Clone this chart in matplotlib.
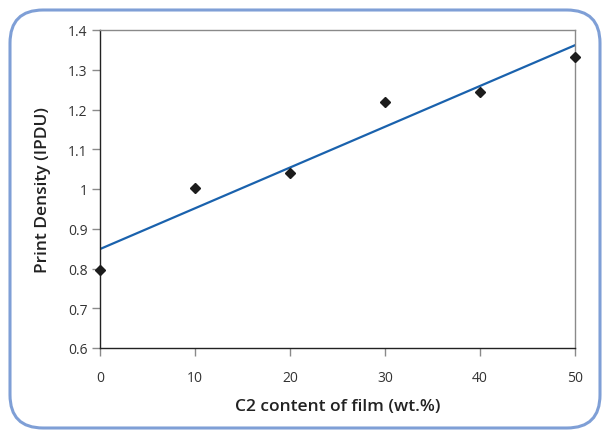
import matplotlib

matplotlib.use("Agg")
import matplotlib.pyplot as plt
import numpy as np
from matplotlib.patches import FancyBboxPatch

plt.rcParams["font.family"] = ["Open Sans", "DejaVu Sans"]

c2_content = [0, 10, 20, 30, 40, 50]
print_density = [0.795, 1.002, 1.04, 1.219, 1.244, 1.332]

x_ticks = [0, 10, 20, 30, 40, 50]
y_ticks = [0.6, 0.7, 0.8, 0.9, 1.0, 1.1, 1.2, 1.3, 1.4]
y_tick_labels = ["0.6", "0.7", "0.8", "0.9", "1", "1.1", "1.2", "1.3", "1.4"]


def main() -> None:
    fig = plt.figure(figsize=(6.02, 4.31), dpi=100)

    # rounded frame round the whole figure
    frame = FancyBboxPatch(
        (10 / 602, 2 / 431),
        (600 - 10) / 602,
        (431 - 13) / 431,
        boxstyle="round,pad=0,rounding_size=0.055",
        transform=fig.transFigure,
        facecolor="none",
        edgecolor="#7f9fd6",
        linewidth=2.2,
        mutation_aspect=602 / 431,
        zorder=-5,
    )
    fig.patches.append(frame)

    ax = fig.add_axes([100 / 602, 82 / 431, 475 / 602, 318 / 431])
    ax.set_facecolor("none")

    slope, intercept = np.polyfit(c2_content, print_density, 1)
    fit_x = np.array([c2_content[0], c2_content[-1]])
    ax.plot(fit_x, slope * fit_x + intercept, color="#1a62ad", linewidth=1.6, zorder=2)

    ax.plot(
        c2_content,
        print_density,
        linestyle="none",
        marker="D",
        markersize=5.5,
        color="#1c1c1c",
        clip_on=False,
        zorder=3,
    )

    ax.set_xlim(0, 50)
    ax.set_ylim(0.6, 1.4)
    ax.set_xticks(x_ticks)
    ax.set_yticks(y_ticks)
    ax.set_yticklabels(y_tick_labels)

    for side in ("left", "bottom"):
        ax.spines[side].set_color("#222222")
        ax.spines[side].set_linewidth(1.0)
    for side in ("top", "right"):
        ax.spines[side].set_color("#8a8a8a")
        ax.spines[side].set_linewidth(1.0)

    ax.tick_params(
        axis="both",
        direction="out",
        length=6,
        width=1,
        color="#8a8a8a",
        labelsize=10,
        labelcolor="#333333",
    )
    ax.tick_params(axis="x", pad=10)
    ax.tick_params(axis="y", pad=3)

    ax.set_xlabel("C2 content of film (wt.%)", fontsize=12.5, fontweight="semibold",
                  color="#222222", labelpad=9)
    ax.set_ylabel("Print Density (IPDU)", fontsize=12.5, fontweight="semibold",
                  color="#222222", labelpad=12)

    fig.savefig("out.png", dpi=100)
    plt.close(fig)


if __name__ == "__main__":
    main()
